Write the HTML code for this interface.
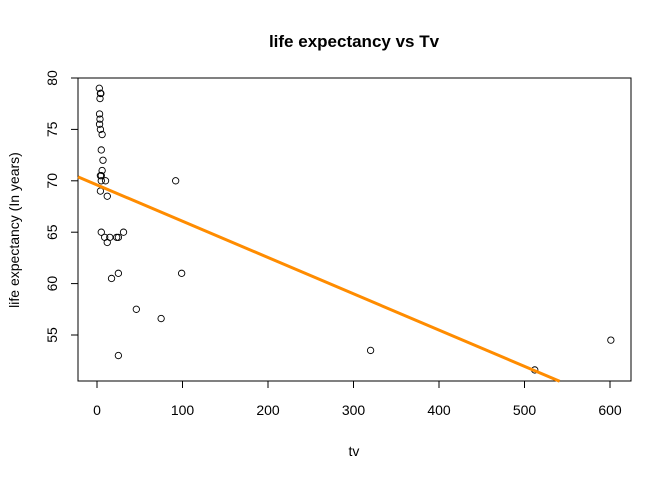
<!DOCTYPE html>
<html><head><meta charset="utf-8"><style>
body{margin:0;background:#fff}
svg{font-family:"Liberation Sans",Arial,sans-serif}
</style></head><body>
<svg id="c" width="672" height="480">
<text x="354" y="47" text-anchor="middle" font-size="17" font-weight="bold">life expectancy vs Tv</text>
<text x="354" y="456" text-anchor="middle" font-size="14">tv</text>
<text transform="translate(19,230) rotate(-90)" text-anchor="middle" font-size="14">life expectancy (In years)</text>
<rect x="78" y="78" width="553" height="303" fill="none" stroke="#000"/>
<g id="g"></g>
</svg>
<script>
const tvValues=[2.7,4,4.5,3.5,3,3.5,3,4,6,5,7,6,4,5,5,10,4,12,92,5,9,12,15,23,25,31,17,25,99,46,75,25,320,512,601];
const lifeValues=[79,78.5,78.5,78,76.5,76,75.5,75,74.5,73,72,71,70.5,70.5,70,70,69,68.5,70,65,64.5,64,64.5,64.5,64.5,65,60.5,61,61,57.5,56.6,53,53.5,51.6,54.5];
const xTicks=[0,100,200,300,400,500,600];
const yTicks=[55,60,65,70,75,80];
const intercept=69.6, slope=-0.0353;
const X=v=>97+v*0.855, Y=v=>78+(80-v)*10.28;
const g=document.getElementById('g'),NS='http://www.w3.org/2000/svg';
function mk(t,a){const e=document.createElementNS(NS,t);for(const k in a)e.setAttribute(k,a[k]);g.appendChild(e);return e;}
xTicks.forEach(t=>{const l=mk('line',{x1:X(t),x2:X(t),y1:381,y2:388,stroke:'#000'});


const s=mk('text',{x:X(t),y:415,'text-anchor':'middle','font-size':14});s.textContent=t;

});
yTicks.forEach(t=>{const l=mk('line',{x1:71,x2:78,y1:Y(t),y2:Y(t),stroke:'#000'});


const s=mk('text',{x:0,y:0,'text-anchor':'middle','font-size':14,transform:`translate(57,${Y(t)}) rotate(-90)`});s.textContent=t;

});
tvValues.forEach((v,i)=>{const c=mk('circle',{cx:X(v),cy:Y(lifeValues[i]),r:3.2,fill:'none',stroke:'#000','stroke-width':0.9});

});
const x0=-22.2,x1=624;
let ya=intercept+slope*x0, yb=intercept+slope*x1, xe=x1;
if(yb<50.5){xe=(50.5-intercept)/slope;yb=50.5;}
const ln=mk('line',{x1:78,y1:Y(ya),x2:X(xe),y2:Y(yb),stroke:'#ff8c00','stroke-width':3});


</script>
</body></html>
